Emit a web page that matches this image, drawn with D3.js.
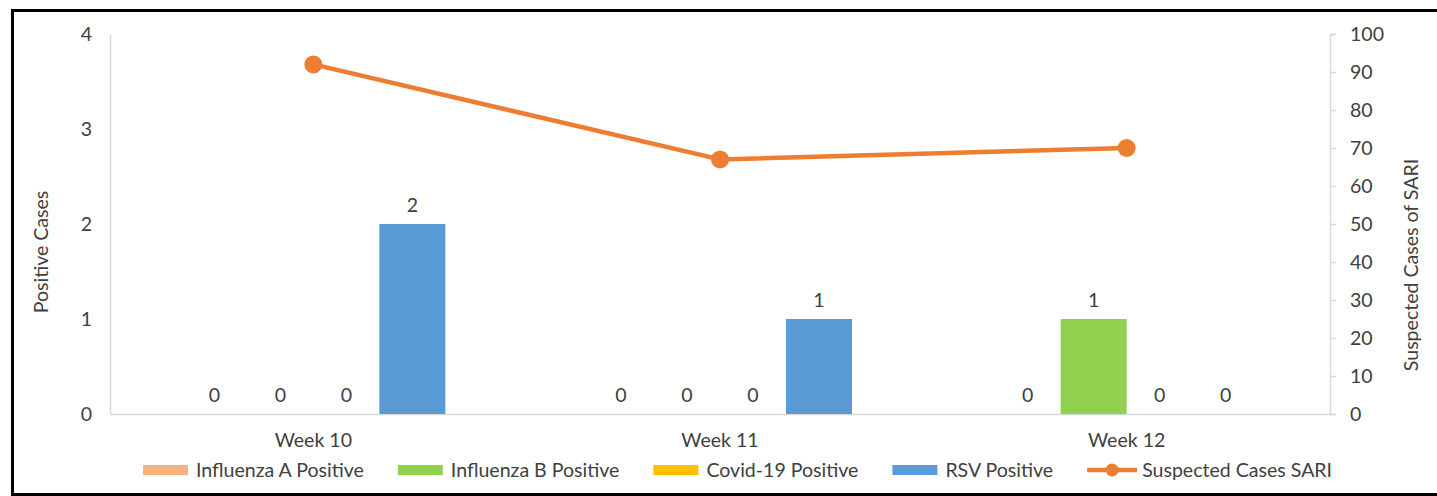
<!DOCTYPE html>
<html>
<head>
<meta charset="utf-8">
<script src="https://cdn.jsdelivr.net/npm/d3@7/dist/d3.min.js"></script>
<style>
html,body{margin:0;padding:0;background:#fff;}
svg{display:block;}
text{font-family:Lato, "Open Sans", sans-serif;fill:#404040;}
</style>
</head>
<body>
<svg id="chart" width="1437" height="496"></svg>
<script>
const weeks = ["Week 10", "Week 11", "Week 12"];
const seriesNames = ["Influenza A Positive", "Influenza B Positive", "Covid-19 Positive", "RSV Positive"];
const influenzaA = [0, 0, 0];
const influenzaB = [0, 0, 1];
const covid19 = [0, 0, 0];
const rsv = [2, 1, 0];
const sariName = "Suspected Cases SARI";
const sari = [92, 67, 70];
const leftTicks = [0, 1, 2, 3, 4];
const rightTicks = [0, 10, 20, 30, 40, 50, 60, 70, 80, 90, 100];
const colors = ["#F4B183", "#92D050", "#FFC000", "#5B9BD5"];
const sariColor = "#ED7D31";

const seriesValues = [influenzaA, influenzaB, covid19, rsv];

const svg = d3.select("#chart");

// fit font size to the reference text width
const probe = svg.append("text").attr("font-size", 100).text("Influenza A Positive");
const fs = 100 * 168 / probe.node().getComputedTextLength();
probe.remove();

// border
svg.append("rect").attr("x", 12.5).attr("y", 10.5).attr("width", 1440).attr("height", 484)
  .attr("fill", "none").attr("stroke", "#000").attr("stroke-width", 3);

const L = 110, R = 1330, T = 34, B = 414;

const x0 = d3.scaleBand().domain(weeks).range([L, R]).padding(0);
const x1 = d3.scaleBand().domain(seriesNames).range([0, x0.bandwidth()]).paddingInner(0).paddingOuter(1.08);
const yL = d3.scaleLinear().domain([0, 4]).range([B, T]);
const yR = d3.scaleLinear().domain([0, 100]).range([B, T]);

// left axis
const gL = svg.append("g").attr("transform", `translate(${L},0)`)
  .call(d3.axisLeft(yL).tickValues(leftTicks).tickSize(0).tickPadding(18).tickFormat(d3.format("d")));
gL.select(".domain").attr("stroke", "#D9D9D9").attr("stroke-width", 1.5);
gL.selectAll("text").attr("font-size", fs).attr("font-family", "Lato").attr("fill", "#404040");

// right axis
const gR = svg.append("g").attr("transform", `translate(${R},0)`)
  .call(d3.axisRight(yR).tickValues(rightTicks).tickSize(6).tickSizeOuter(6).tickPadding(14).tickFormat(d3.format("d")));
gR.select(".domain").attr("stroke", "#D9D9D9").attr("stroke-width", 1.5);
gR.selectAll(".tick line").attr("stroke", "#D9D9D9").attr("stroke-width", 1.5);
gR.selectAll("text").attr("font-size", fs).attr("font-family", "Lato").attr("fill", "#404040");

// bottom axis
const gB = svg.append("g").attr("transform", `translate(0,${B})`)
  .call(d3.axisBottom(x0).tickSize(0).tickPadding(19).tickSizeOuter(0));
gB.select(".domain").attr("stroke", "#D9D9D9").attr("stroke-width", 1.5);
gB.selectAll("text").attr("font-size", fs).attr("font-family", "Lato").attr("fill", "#404040");

// bars
const barData = [];
weeks.forEach((w, i) => seriesNames.forEach((s, j) => barData.push({w, s, j, v: seriesValues[j][i]})));

svg.append("g").selectAll("rect").data(barData.filter(d => d.v > 0)).join("rect")
  .attr("x", d => x0(d.w) + x1(d.s))
  .attr("y", d => yL(d.v))
  .attr("width", x1.bandwidth())
  .attr("height", d => yL(0) - yL(d.v))
  .attr("fill", d => colors[d.j]);

svg.append("g").selectAll("text").data(barData).join("text")
  .attr("x", d => x0(d.w) + x1(d.s) + x1.bandwidth() / 2)
  .attr("y", d => yL(d.v) - 12)
  .attr("text-anchor", "middle")
  .attr("font-size", fs)
  .text(d => d.v);

// line
const cx = (w) => x0(w) + x0.bandwidth() / 2;
const line = d3.line().x((d, i) => cx(weeks[i])).y(d => yR(d));
svg.append("path").datum(sari).attr("d", line).attr("fill", "none")
  .attr("stroke", sariColor).attr("stroke-width", 4.5).attr("stroke-linejoin", "round");
svg.append("g").selectAll("circle").data(sari).join("circle")
  .attr("cx", (d, i) => cx(weeks[i])).attr("cy", d => yR(d)).attr("r", 9).attr("fill", sariColor);

// axis titles
svg.append("text").attr("transform", "translate(48,252) rotate(-90)")
  .attr("text-anchor", "middle").attr("font-size", fs).text("Positive Cases");
svg.append("text").attr("transform", "translate(1418,265) rotate(-90)")
  .attr("text-anchor", "middle").attr("font-size", fs).text("Suspected Cases of SARI");

// legend
const legendItems = seriesNames.map((n, i) => ({name: n, color: colors[i], type: "bar"}))
  .concat([{name: sariName, color: sariColor, type: "line"}]);
const leg = svg.append("g");
const swW = 45, swGap = 7, itemGap = 34;
let xpos = 0;
const legY = 470;
legendItems.forEach((it, i) => {
  const g = leg.append("g").attr("transform", `translate(${xpos},0)`);
  if (it.type === "bar") {
    g.append("rect").attr("x", 0).attr("y", legY - 5).attr("width", swW).attr("height", 10).attr("fill", it.color);
  } else {
    g.append("line").attr("x1", 0).attr("x2", 50).attr("y1", legY).attr("y2", legY)
      .attr("stroke", it.color).attr("stroke-width", 4.5);
    g.append("circle").attr("cx", 25).attr("cy", legY).attr("r", 6.5).attr("fill", it.color);
  }
  const tx = (it.type === "bar" ? swW : 50) + (it.type === "bar" ? swGap + 1 : 5);
  const t = g.append("text").attr("x", tx).attr("y", legY).attr("dy", "0.35em").attr("font-size", fs).text(it.name);
  xpos += tx + t.node().getComputedTextLength() + itemGap;
});
leg.attr("transform", `translate(${143},0)`);
</script>
</body>
</html>
